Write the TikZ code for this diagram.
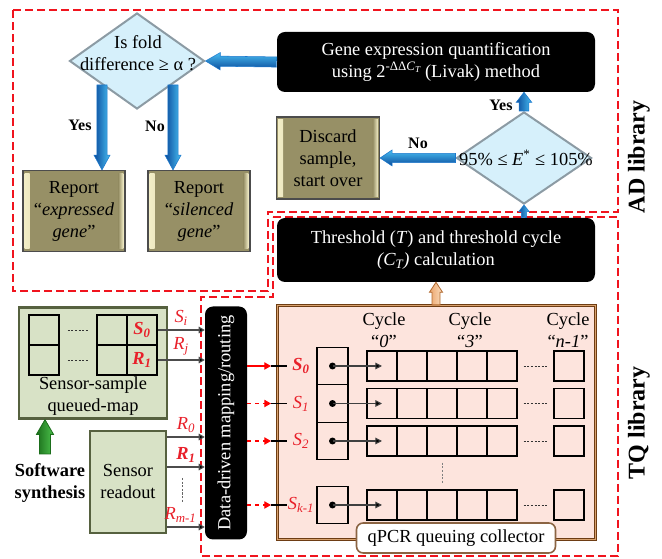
\documentclass[tikz,border=0pt]{standalone}
\usepackage{fontspec}
\setmainfont{Liberation Serif}
\usetikzlibrary{calc,arrows.meta,shapes.geometric}

% 1 unit of the drawing grid
\newdimen\px \px=0.75pt

\definecolor{olivefc}{HTML}{979066}
\definecolor{olivelt}{HTML}{F4EFC8}
\definecolor{sage}{HTML}{D8E2C6}
\definecolor{sagedk}{HTML}{56613F}
\definecolor{diafill}{HTML}{D6F0FB}
\definecolor{diaedge}{HTML}{8C9BA4}
\definecolor{pinkfc}{HTML}{FDE4DD}
\definecolor{brownbd}{HTML}{6E3D14}
\definecolor{browntan}{HTML}{D9A26E}
\definecolor{frame}{HTML}{F0141E}
\definecolor{sigred}{HTML}{E8202A}
\definecolor{bluedk}{HTML}{0B4C9C}
\definecolor{bluemd}{HTML}{1C78CC}
\definecolor{bluelt}{HTML}{48BDF2}
\definecolor{greendk}{HTML}{1B6E1B}
\definecolor{greenlt}{HTML}{4CC24C}
\definecolor{orangedk}{HTML}{B0682E}
\definecolor{orangelt}{HTML}{FBDDBE}
\definecolor{orangemd}{HTML}{EBA56C}

\newcommand\fnorm{\fontsize{13.8pt}{16.5pt}\selectfont}
\newcommand\sig[2]{\textit{#1}\textsubscript{\textit{#2}}}

% block arrow: style, from, to, half shaft, half head, head length
\newcommand\blockarrow[6]{%
  \path[#1] let \p1=#2, \p2=#3,
      \n{ang}={atan2(\y2-\y1,\x2-\x1)}, \n{len}={veclen(\x2-\x1,\y2-\y1)} in
    ($(\p1)+(\n{ang}+90:#4)$)
    -- ($(\p1)+(\n{ang}:\n{len}-#6)+(\n{ang}+90:#4)$)
    -- ($(\p1)+(\n{ang}:\n{len}-#6)+(\n{ang}+90:#5)$)
    -- (\p2)
    -- ($(\p1)+(\n{ang}:\n{len}-#6)+(\n{ang}-90:#5)$)
    -- ($(\p1)+(\n{ang}:\n{len}-#6)+(\n{ang}-90:#4)$)
    -- ($(\p1)+(\n{ang}-90:#4)$) -- cycle;}

\tikzset{
  txt/.style={font=\fnorm, align=center, inner sep=0pt},
  boldtxt/.style={txt, font=\fnorm\bfseries},
  blackbox/.style={txt, fill=black, text=white, rounded corners=6pt},
  olivebox/.style={txt, fill=olivefc, draw=black!70, line width=0.9pt,
    path picture={
      \shade[left color=olivelt, right color=olivefc]
        ([xshift=1.2pt,yshift=-2pt]path picture bounding box.north west) rectangle
        ([xshift=5pt,yshift=2pt]path picture bounding box.south west);
      \shade[left color=olivefc, right color=olivelt]
        ([xshift=-5pt,yshift=-2pt]path picture bounding box.north east) rectangle
        ([xshift=-1.2pt,yshift=2pt]path picture bounding box.south east);
    }},
  sagebox/.style={txt, fill=sage, draw=sagedk, line width=1.8pt},
  dia/.style={diamond, fill=diafill, draw=diaedge, line width=1.5pt, inner sep=0pt},
  libframe/.style={draw=frame, line width=1.5pt, dash pattern=on 6pt off 3pt},
  yn/.style={font=\fontsize{12pt}{14pt}\selectfont\bfseries, inner sep=0pt},
  liblbl/.style={font=\fontsize{18pt}{20pt}\selectfont\bfseries, rotate=90, inner sep=0pt},
  cell/.style={font=\fnorm, draw=black, line width=1.1pt, minimum width=30\px, minimum height=30\px, inner sep=0pt},
  sigtxt/.style={txt, text=sigred},
  feed/.style={draw=black!70, line width=0.8pt, -{Triangle[length=4.5pt,width=5pt,fill=black]}},
  route/.style={draw=red, line width=0.8pt, -{Triangle[length=5pt,width=5.5pt]}},
  tick/.style={draw=black, line width=1.2pt},
  ptr/.style={draw=black!75, line width=0.8pt, -{Triangle[length=5pt,width=5pt,fill=black]}},
  dots/.style={draw=black!80, line width=0.6pt, dash pattern=on 1.6pt off 1.1pt},
  vblue/.style={left color=bluedk, middle color=bluemd, right color=bluelt, draw=bluemd, line width=0.4pt},
  hblue/.style={top color=bluelt, middle color=bluemd, bottom color=bluedk, draw=bluemd, line width=0.4pt},
  greenarr/.style={left color=greendk, right color=greenlt, draw=greendk, line width=0.6pt},
  orangearr/.style={left color=orangemd, right color=orangelt, draw=orangedk, line width=0.6pt},
}

\begin{document}
\begin{tikzpicture}[x=0.75pt,y=-0.75pt]
\useasboundingbox (0,0) rectangle (662,559);

% ---- library frames ----
\draw[libframe] (13,10) -- (618,10) -- (618,212) -- (268,212) -- (268,291) -- (13,291) -- cycle;
\draw[libframe] (273,217) -- (618,217) -- (618,556) -- (201,556) -- (201,297) -- (273,297) -- cycle;
\node[liblbl] (adlib) at (639,157) {AD library};
\node[liblbl] (tqlib) at (639,423) {TQ library};

% ---- AD library ----
\node[dia, minimum width=135\px, minimum height=96\px] (fold) at (137,61) {};
\node[txt] (foldtxt) at (138,53) {Is fold\\difference ≥ α ?};

\node[blackbox, minimum width=318\px, minimum height=60\px] (gene) at (436,62)
  {Gene expression quantification\\using 2\textsuperscript{-ΔΔ\textit{C}\textsubscript{\textit{T}}}\,(Livak) method};

\node[dia, minimum width=135\px, minimum height=92\px] (eff) at (524,158) {};
\node[txt] (efftxt) at (526,158) {95\% ≤ \textit{E}\textsuperscript{*} ≤ 105\%};

\node[olivebox, minimum width=103\px, minimum height=82\px] (discard) at (328,158)
  {Discard\\sample,\\start over};

\node[olivebox, minimum width=102\px, minimum height=81\px] (rep1) at (74,211)
  {Report\\“\textit{expressed}\\\textit{gene}”};
\node[olivebox, minimum width=102\px, minimum height=81\px] (rep2) at (199,211)
  {Report\\“\textit{silenced}\\\textit{gene}”};

\node[blackbox, minimum width=318\px, minimum height=64\px] (thr) at (436,250)
  {Threshold (\textit{T}) and threshold cycle\\\textit{(C\textsubscript{T})} calculation};

% blue flow arrows
\blockarrow{hblue}{(gene.west)}{(fold.east)}{3.8pt}{6.5pt}{11pt}
\coordinate (yesdn) at (102,85);
\coordinate (nodn) at (173,85);
\blockarrow{vblue}{(yesdn)}{(yesdn |- rep1.north)}{3.8pt}{6pt}{11pt}
\blockarrow{vblue}{(nodn)}{(nodn |- rep2.north)}{3.8pt}{6pt}{11pt}
\node[yn] at (80,125) {Yes};
\node[yn] at (155,126) {No};

\blockarrow{vblue}{(eff.north)}{(eff.north |- gene.south)}{3.6pt}{5.8pt}{7.5pt}
\node[yn] at (501,105) {Yes};
\blockarrow{hblue}{(eff.west)}{(discard.east)}{3.5pt}{6pt}{9pt}
\node[yn] at (418,143) {No};
\blockarrow{vblue}{(eff.south |- thr.north)}{(eff.south)}{1.9pt}{4pt}{5pt}

% ---- TQ library ----
\node[fill=pinkfc, draw=brownbd, line width=0.9pt, double=browntan, double distance=0.8pt,
      minimum width=318\px, minimum height=234\px] (qpcr) at (436.5,422.5) {};

\blockarrow{orangearr}{(thr.south |- qpcr.north)}{(thr.south)}{3pt}{4.9pt}{7.5pt}

\node[txt] (cy0) at (384,330) {Cycle\\“\textit{0}”};
\node[txt] (cy3) at (470,330) {Cycle\\“\textit{3}”};
\node[txt] (cyn) at (568,330) {Cycle\\“\textit{n-1}”};

\node[blackbox, rotate=90, minimum width=233\px, minimum height=42\px] (route) at (226,423)
  {Data-driven mapping/routing};

\foreach \r/\y/\lab/\how in {0/366/{\textbf{\sig{S}{0}}}/solid,
                             1/403.5/{\sig{S}{1}}/dashed,
                             2/441/{\sig{S}{2}}/dashed,
                             3/505/{\sig{S}{k-1}}/dashed} {
  \node[cell, minimum width=31\px, minimum height=37.5\px] (p\r) at (332.5,\y) {};
  \foreach \c in {0,...,4}
    \node[cell] (c\r-\c) at ({382+30*\c},\y) {};
  \node[cell] (c\r-L) at (569,\y) {};
  \draw[dots] ([xshift=4.5pt]c\r-4.east) -- ([xshift=-4.5pt]c\r-L.west);
  \fill (p\r.center) circle (2.6pt);
  \draw[ptr] (p\r.center) -- (c\r-0.center);
  \coordinate (tk\r) at (271,\y);
  \draw[route, \how] (route.south |- p\r.center) -- (tk\r);
  \draw[tick] (tk\r) -- ++(16,0);
  \node[sigtxt] (s\r) at (301,\y) {\lab};
}
\draw[dots, draw=black!50] (c2-2.south) ++(0,6) -- ([yshift=4.5pt]c3-2.north);

\node[txt, fill=white, draw=brownbd!80, line width=1.2pt, rounded corners=5pt,
      minimum width=199\px, minimum height=30\px] (coll) at (456,538) {qPCR queuing collector};

% ---- sensor side ----
\node[sagebox, minimum width=148\px, minimum height=111\px] (map) at (93,363) {};
\node[cell] (mL1) at (44,330) {};
\node[cell] (mL2) at (44,360) {};
\node[cell] (mA1) at (112,330) {};
\node[cell] (mS) at (142,330) {\textcolor{sigred}{\textbf{\sig{S}{0}}}};
\node[cell] (mA2) at (112,360) {};
\node[cell] (mR) at (142,360) {\textcolor{sigred}{\textbf{\sig{R}{1}}}};
\draw[dots] ([xshift=6pt]mL1.east) -- ([xshift=-6pt]mA1.west);
\draw[dots] ([xshift=6pt]mL2.east) -- ([xshift=-6pt]mA2.west);
\node[txt] (maptxt) at (93,396) {Sensor-sample\\queued-map};

\node[sagebox, minimum width=76\px, minimum height=102\px] (readout) at (128,482) {Sensor\\readout};

\node[boldtxt] (soft) at (50,483) {Software\\synthesis};
\coordinate (swtop) at (45,454);
\blockarrow{greenarr}{(swtop)}{(swtop |- map.south)}{4.1pt}{6.4pt}{11pt}

\draw[feed] (mS.east) -- node[sigtxt, above=3pt] {\sig{S}{i}} (mS.east -| route.north);
\draw[feed] (mR.east) -- node[sigtxt, above=3pt] {\sig{R}{j}} (mR.east -| route.north);

\coordinate (yR0) at (0,437);
\coordinate (yR1) at (0,467);
\coordinate (yRm) at (0,527);
\draw[feed] (readout.east |- yR0) -- node[sigtxt, above=3pt] {\sig{R}{0}} (route.north |- yR0);
\draw[feed] (readout.east |- yR1) -- node[sigtxt, above=3pt] {\textbf{\sig{R}{1}}} (route.north |- yR1);
\draw[feed] (readout.east |- yRm) -- node[sigtxt, above=3pt, xshift=-4pt] {\sig{R}{m-1}} (route.north |- yRm);
\draw[dots, draw=black!60] (182,478) -- (182,503);

\end{tikzpicture}
\end{document}
